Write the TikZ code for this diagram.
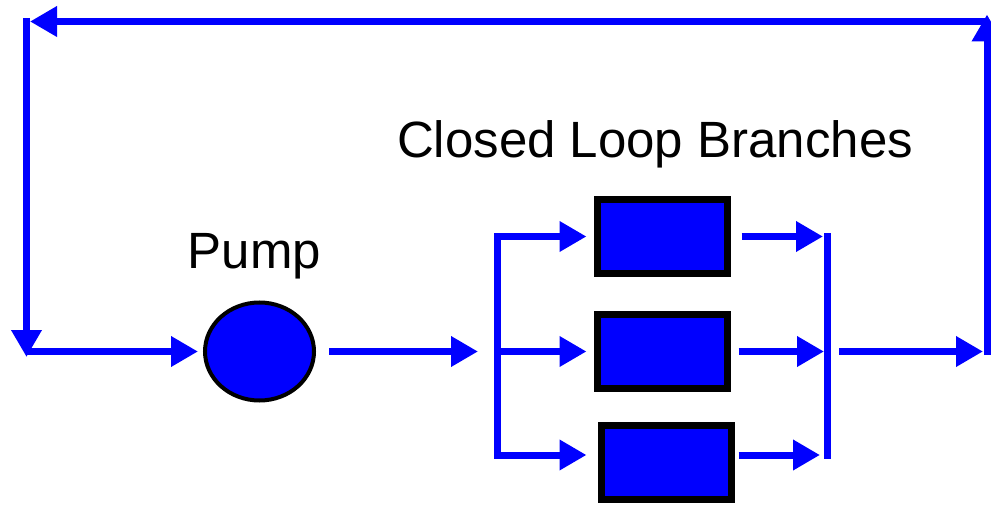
\documentclass[tikz,border=0pt]{standalone}
\usepackage{fontspec}
\setmainfont{Liberation Sans}
\usetikzlibrary{arrows.meta,shapes.geometric}
\definecolor{flowblue}{rgb}{0.0, 0.0, 1.0}

\begin{document}
\begin{tikzpicture}[x=1pt,y=-1pt,
    flow/.style={draw=flowblue,line width=7pt},
    flowarrow/.style={flow,-{Triangle[length=27pt,width=29pt]}},
    branch/.style={draw=black,fill=flowblue,line width=7pt,minimum width=130pt,minimum height=74pt,inner sep=0pt},
    heading/.style={font=\fontsize{51}{60}\selectfont,anchor=base}]
    \useasboundingbox (0,0) rectangle (991,505);
    % Pump and branches
    \node[ellipse,draw=black,fill=flowblue,line width=4pt,minimum width=109pt,minimum height=98pt,inner sep=0pt] (pump) at (259.5,351.5) {};
    \node[branch] (b1) at (662.5,236.5) {};
    \node[branch] (b2) at (662.5,351.5) {};
    \node[branch] (b3) at (666.5,462.5) {};
    % Labels
    \node[heading] (pumplabel) at (254.5,269) {Pump};
    \node[heading] (looplabel) at (655,158) {Closed Loop Branches};
    % Junctions
    \coordinate (stop) at (497.5,236.5);
    \coordinate (smid) at (497.5,351.5);
    \coordinate (sbot) at (497.5,455);
    \coordinate (mtop) at (827.5,236.5);
    \coordinate (mmid) at (827.5,351.5);
    \coordinate (mbot) at (827.5,455);
    \coordinate (rc) at (987,351.5);
    \coordinate (tr) at (987,21.5);
    \coordinate (tl) at (26.5,21.5);
    \coordinate (bl) at (26.5,351.5);
    % Split
    \draw[flow,line cap=rect] (stop) -- (sbot);
    \foreach \j in {stop,smid,sbot}
      \draw[flowarrow,shorten >=7.5pt] (\j) -- (\j -| b1.west);
    % Merge
    \draw[flow,line cap=rect] (mtop) -- (mbot);
    \draw[flowarrow,shorten <=10.5pt,shorten >=4.5pt] (b1.east) -- (mtop);
    \draw[flowarrow,shorten <=7.5pt,shorten >=3.5pt] (b2.east) -- (mmid);
    \draw[flowarrow,shorten <=3.5pt,shorten >=7.5pt] (b3.east |- mbot) -- (mbot);
    % Pump
    \draw[flowarrow,shorten >=5pt] (bl) -- (pump.west);
    \draw[flowarrow,shorten <=13pt,shorten >=19.5pt] (pump.east) -- (smid);
    % Return loop
    \draw[flowarrow,shorten <=11.5pt,shorten >=4pt] (mmid) -- (rc);
    \draw[flowarrow,shorten <=-3.5pt,shorten >=-7pt] (rc) -- (tr);
    \draw[flowarrow,shorten >=3.5pt] (tr) -- (tl);
    \draw[flowarrow,shorten <=-3.5pt,shorten >=-5.5pt] (tl) -- (bl);
\end{tikzpicture}
\end{document}
